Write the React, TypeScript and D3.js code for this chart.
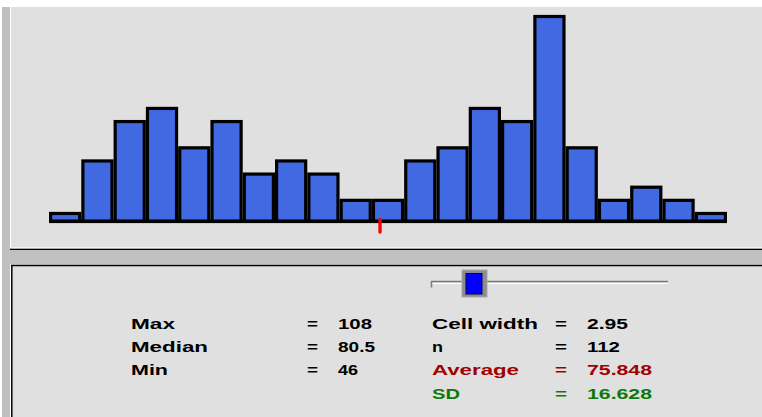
import React from "react";
import * as d3 from "d3";

// ---- data ----
const binStart = 45.6; // left edge of first cell
const cellWidth = 2.95;
const counts = [1, 5, 8, 9, 6, 8, 4, 5, 4, 2, 2, 5, 6, 9, 8, 16, 6, 2, 3, 2, 1];
const statLabelsLeft = ["Max", "Median", "Min"];
const statValuesLeft = ["108", "80.5", "46"];
const statLabelsRight = ["Cell width", "n", "Average", "SD"];
const statValuesRight = ["2.95", "112", "75.848", "16.628"];
const averageValue = 75.848;
const sliderPos = 0.1835; // fraction along slider track

const W = 762;
const H = 417;

export default function App() {
  const nBins = counts.length;
  const x = d3
    .scaleLinear()
    .domain([binStart, binStart + nBins * cellWidth])
    .range([49, 727]);
  const y = d3.scaleLinear().domain([0, 16]).range([226.6, 16.5]);
  const sw = 3.2;
  const baseY = 221.5;

  const bins = counts.map((c, i) => ({
    lo: binStart + i * cellWidth,
    hi: binStart + (i + 1) * cellWidth,
    c,
  }));

  const font = "'Liberation Sans', Arial, Helvetica, sans-serif";
  const leftWidths = [44, 77, 37];
  const leftValW = [34, 37, 20];
  const rightWidths = [106, 11, 87, 28];
  const rightValW = [41, 33, 65, 65];
  const rightColors = ["#000", "#000", "#a00000", "#0b7a0b"];
  const baselines = [328.5, 352, 375, 398.5];

  const sx = d3.scaleLinear().domain([0, 1]).range([431, 668]);
  const thumbX = sx(sliderPos);

  return (
    <svg
      width={W}
      height={H}
      style={{ position: "absolute", left: 0, top: 0, display: "block" }}
    >
      <rect x={0} y={0} width={W} height={H} fill="#ffffff" />
      {/* left frame strip */}
      <rect x={2} y={7} width={8} height={H - 7} fill="#c0c0c0" />
      {/* top panel */}
      <rect x={10} y={7} width={W - 10} height={242} fill="#e0e0e0" />
      <line x1={10.5} y1={7} x2={10.5} y2={248} stroke="#ffffff" strokeWidth={1} />
      <line x1={10} y1={247.5} x2={W} y2={247.5} stroke="#f4f4f4" strokeWidth={1} />
      <line x1={10} y1={249.5} x2={W} y2={249.5} stroke="#000" strokeWidth={1.6} />
      {/* band between panels */}
      <rect x={2} y={250.5} width={W - 2} height={14} fill="#c0c0c0" />
      {/* lower panel */}
      <rect x={11} y={265} width={W - 11} height={H - 265} fill="#e0e0e0" />
      <line x1={11} y1={265.5} x2={W} y2={265.5} stroke="#000" strokeWidth={1.5} />
      <line x1={11.8} y1={265} x2={11.8} y2={H} stroke="#000" strokeWidth={1.5} />

      {/* bars */}
      {bins.map((b, i) => (
        <rect
          key={i}
          x={x(b.lo) + sw / 2}
          y={y(b.c)}
          width={x(b.hi) - x(b.lo) - sw}
          height={baseY - y(b.c)}
          fill="#4169e1"
          stroke="#000"
          strokeWidth={sw}
        />
      ))}
      {/* baseline */}
      <rect x={x(binStart)} y={219.5} width={x(binStart + nBins * cellWidth) - x(binStart)} height={3.5} fill="#000" />
      {/* average marker */}
      <line
        x1={x(averageValue)}
        x2={x(averageValue)}
        y1={219.5}
        y2={232}
        stroke="#ff0000"
        strokeWidth={3.4}
        strokeLinecap="round"
      />

      {/* slider */}
      <line x1={431} y1={281.5} x2={668} y2={281.5} stroke="#7a7a7a" strokeWidth={1.5} />
      <line x1={432} y1={283.5} x2={668} y2={283.5} stroke="#ffffff" strokeWidth={1} />
      <line x1={431.5} y1={281} x2={431.5} y2={287.5} stroke="#7a7a7a" strokeWidth={1.5} />
      <rect x={thumbX - 12.5} y={270} width={25} height={27} fill="#8c8c8c" stroke="#a8a8a8" strokeWidth={1} />
      <rect x={thumbX - 8.5} y={273.5} width={16} height={20.5} fill="#0000ff" stroke="#000066" strokeWidth={1} />

      {/* stats left column */}
      <g fontFamily={font} fontWeight="bold" fontSize={15} fill="#000">
        {statLabelsLeft.map((t, i) => (
          <text key={"ll" + i} x={131} y={baselines[i]} textLength={leftWidths[i]} lengthAdjust="spacingAndGlyphs">
            {t}
          </text>
        ))}
        {statLabelsLeft.map((_, i) => (
          <text key={"le" + i} x={307} y={baselines[i]} textLength={11} lengthAdjust="spacingAndGlyphs">
            =
          </text>
        ))}
        {statValuesLeft.map((t, i) => (
          <text key={"lv" + i} x={338} y={baselines[i]} textLength={leftValW[i]} lengthAdjust="spacingAndGlyphs">
            {t}
          </text>
        ))}
      </g>
      {/* stats right column */}
      <g fontFamily={font} fontWeight="bold" fontSize={15}>
        {statLabelsRight.map((t, i) => (
          <text key={"rl" + i} x={432} y={baselines[i]} fill={rightColors[i]} textLength={rightWidths[i]} lengthAdjust="spacingAndGlyphs">
            {t}
          </text>
        ))}
        {statLabelsRight.map((_, i) => (
          <text key={"re" + i} x={555} y={baselines[i]} fill={rightColors[i]} textLength={12} lengthAdjust="spacingAndGlyphs">
            =
          </text>
        ))}
        {statValuesRight.map((t, i) => (
          <text key={"rv" + i} x={587} y={baselines[i]} fill={rightColors[i]} textLength={rightValW[i]} lengthAdjust="spacingAndGlyphs">
            {t}
          </text>
        ))}
      </g>
    </svg>
  );
}
